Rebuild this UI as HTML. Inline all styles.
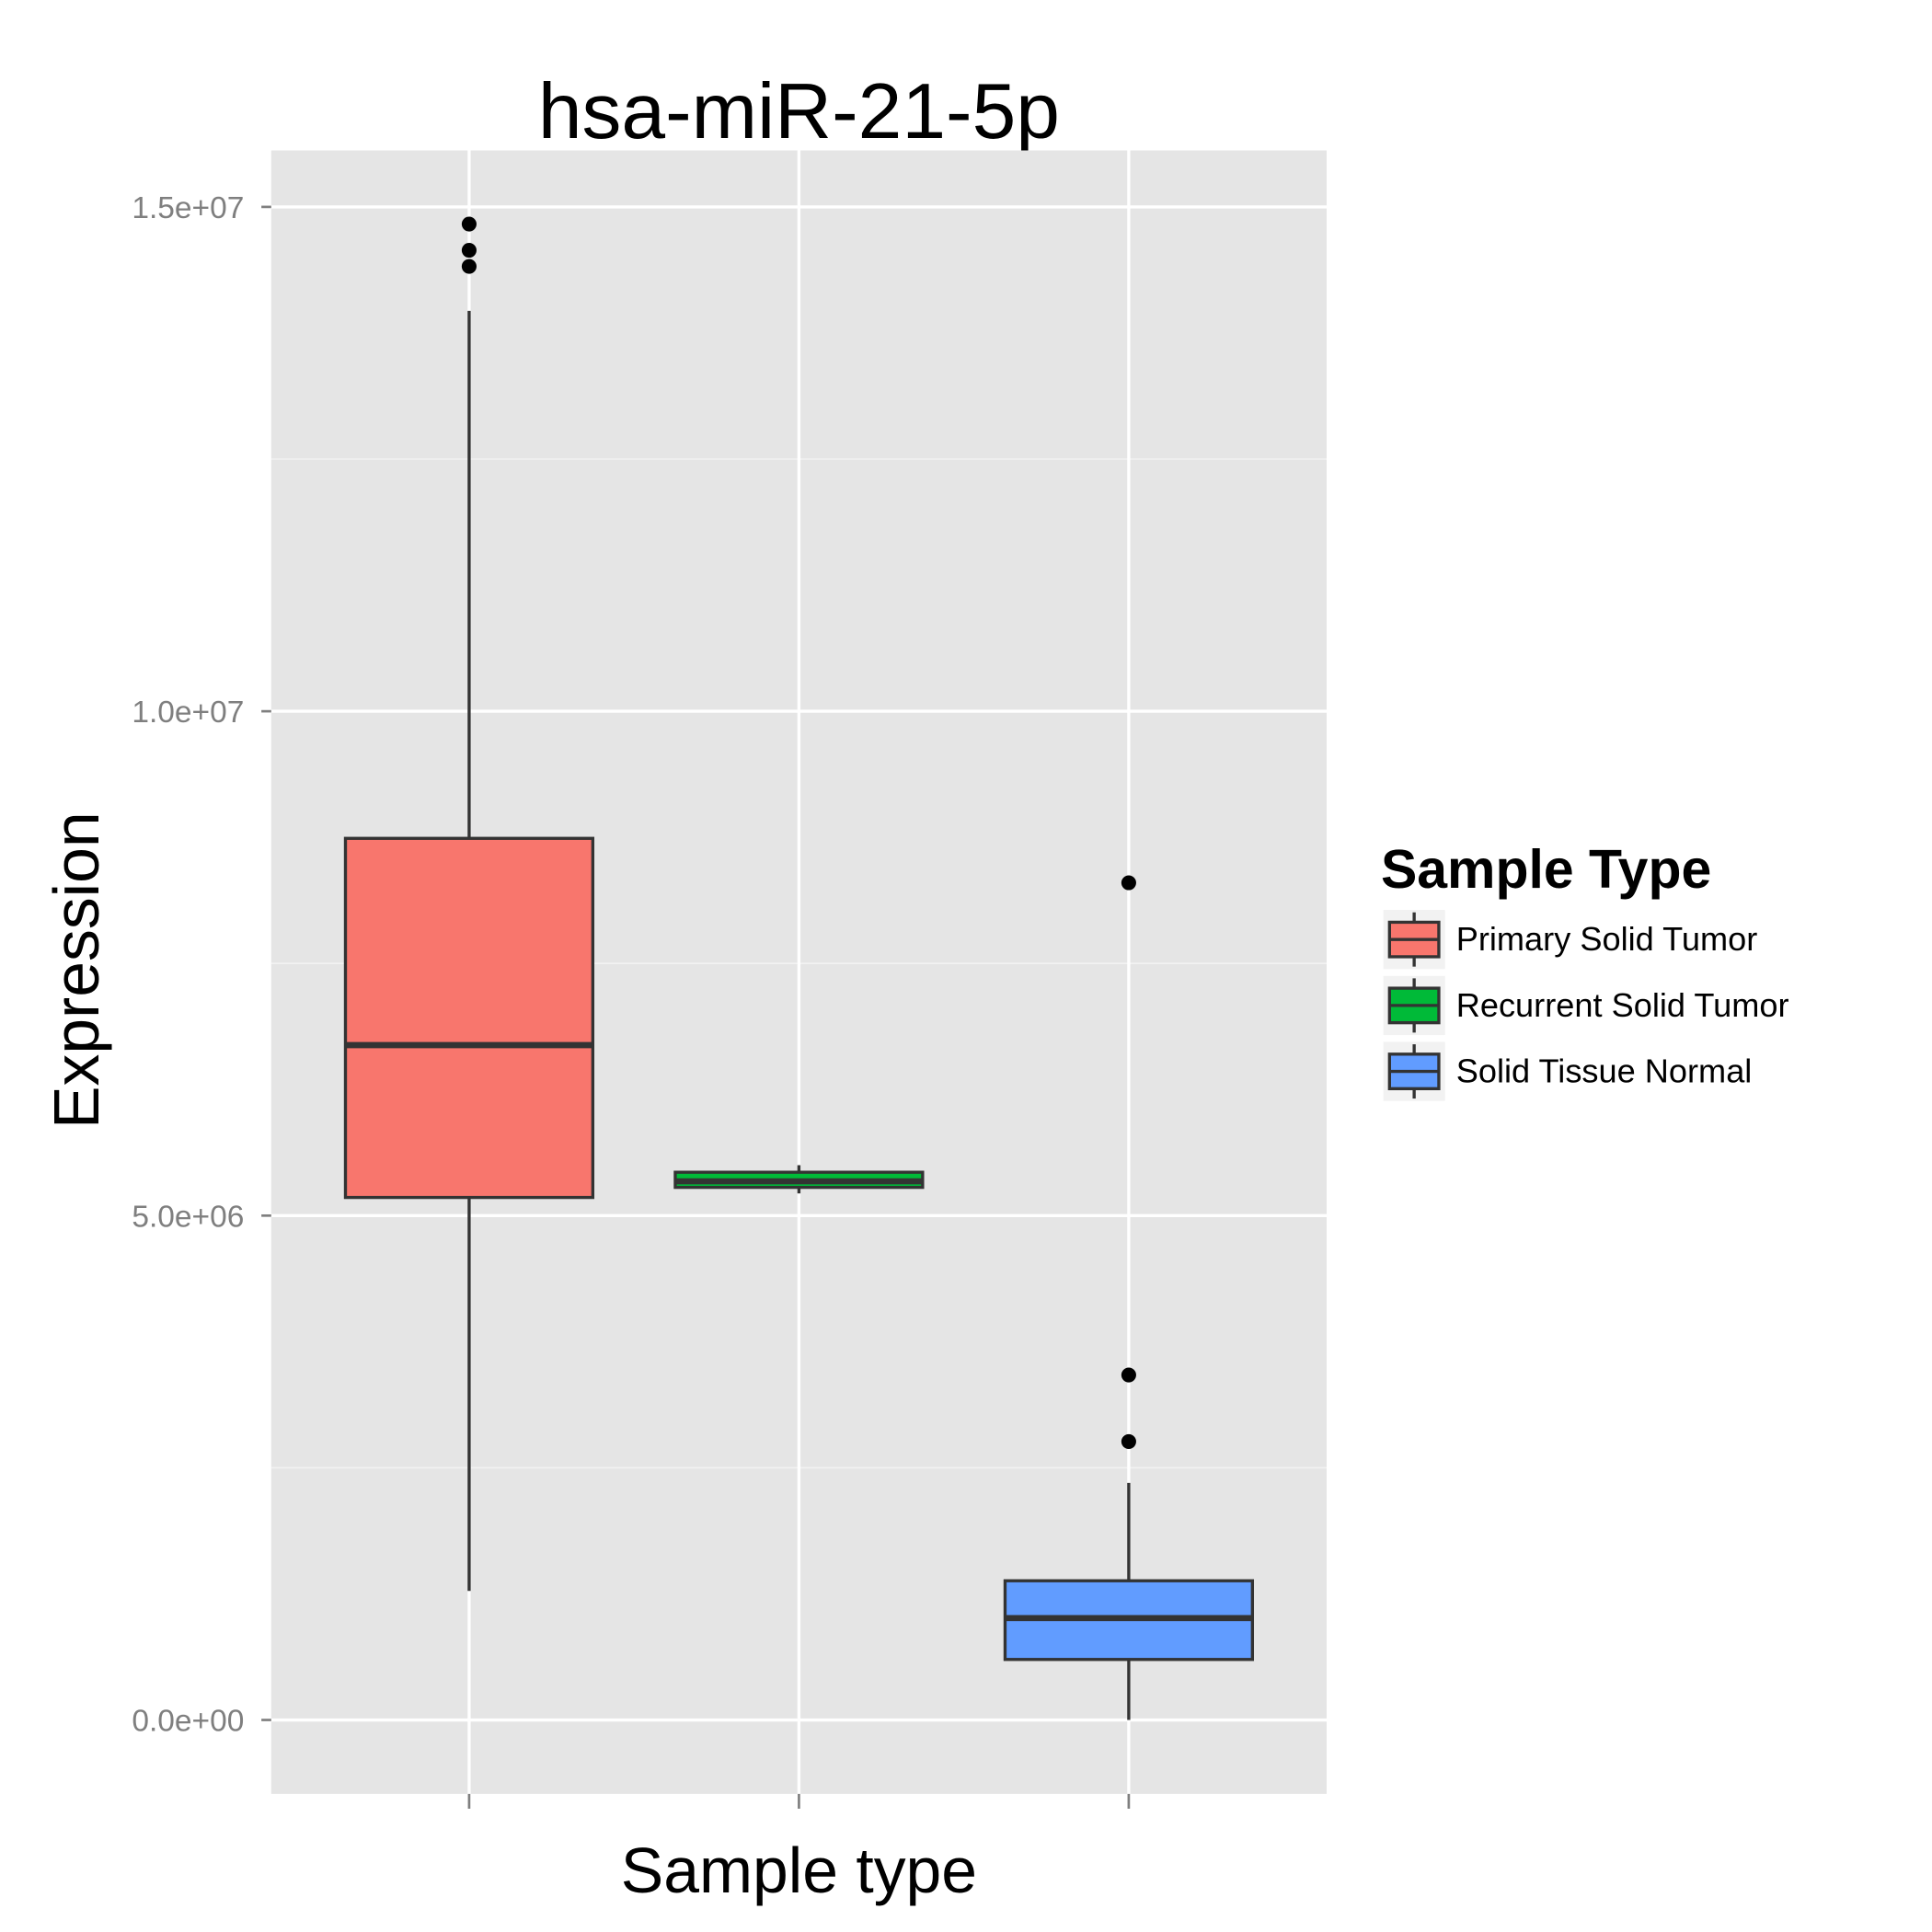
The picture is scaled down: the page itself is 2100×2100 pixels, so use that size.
<!DOCTYPE html>
<html><head><meta charset="utf-8"><style>html,body{margin:0;padding:0;background:#fff}svg{display:block}</style></head>
<body>
<svg id="chart" width="2100" height="2100" viewBox="0 0 1567 1567" xmlns="http://www.w3.org/2000/svg" font-family="'Liberation Sans', sans-serif">
<rect x="0" y="0" width="1567" height="1567" fill="#fff"/>
<text x="648" y="112" font-size="64" text-anchor="middle" fill="#000">hsa-miR-21-5p</text>
<rect x="220" y="122" width="856" height="1333" fill="#e5e5e5"/>
<g id="grid"></g>
<g id="boxes"></g>
<g id="axes"></g>
<text transform="translate(80,787) rotate(-90)" font-size="52" text-anchor="middle">Expression</text>
<text x="648" y="1535" font-size="52" text-anchor="middle">Sample type</text>
<g id="legend">
<text x="1120" y="720" font-size="44" font-weight="bold">Sample Type</text>
</g>
</svg>
<script>
const categories = ["Primary Solid Tumor","Recurrent Solid Tumor","Solid Tissue Normal"];
const colors = ["#F8766D","#00BA38","#619CFF"];
const whiskerLow = [1.28e6, 5.22e6, 0.0];
const q1 = [5.18e6, 5.28e6, 0.60e6];
const median = [6.69e6, 5.34e6, 1.01e6];
const q3 = [8.74e6, 5.43e6, 1.38e6];
const whiskerHigh = [13.97e6, 5.50e6, 2.35e6];
const outliers = [[14.83e6, 14.57e6, 14.41e6], [], [8.30e6, 3.42e6, 2.76e6]];
const yTicks = [0, 5e6, 1e7, 1.5e7];
const yTickLabels = ["0.0e+00","5.0e+06","1.0e+07","1.5e+07"];
const yMinor = [2.5e6, 7.5e6, 1.25e7];

const NS="http://www.w3.org/2000/svg";
const px0=220, px1=1076, py0=122, py1=1455;
const yMin=-0.733e6, yMax=15.56e6;
function y(v){return py1-(v-yMin)/(yMax-yMin)*(py1-py0);}
const band=(px1-px0)/(categories.length+0.2);
function x(i){return px0+band*(0.6+i);}
function mk(parent,tag,attrs){const e=document.createElementNS(NS,tag);for(const k in attrs)e.setAttribute(k,attrs[k]);parent.appendChild(e);return e;}
const grid=document.getElementById('grid'), boxes=document.getElementById('boxes'), axes=document.getElementById('axes'), legend=document.getElementById('legend');
yMinor.forEach(v=>{const l=mk(grid,'line',{x1:px0,x2:px1,y1:y(v),y2:y(v),stroke:'#f2f2f2','stroke-width':1.2});

});
yTicks.forEach((v,i)=>{const l=mk(grid,'line',{x1:px0,x2:px1,y1:y(v),y2:y(v),stroke:'#fff','stroke-width':2.5});


const t=mk(axes,'line',{x1:px0-8,x2:px0,y1:y(v),y2:y(v),stroke:'#7f7f7f','stroke-width':2});


const tx=mk(axes,'text',{x:px0-22,y:y(v)+9,'font-size':25,'text-anchor':'end',fill:'#7f7f7f'});tx.textContent=yTickLabels[i];

});
categories.forEach((c,i)=>{const cx=x(i);
const g=mk(grid,'line',{x1:cx,x2:cx,y1:py0,y2:py1,stroke:'#fff','stroke-width':2.5});


const t=mk(axes,'line',{x1:cx,x2:cx,y1:py1,y2:py1+12,stroke:'#7f7f7f','stroke-width':2});


const bw=band*0.75;
const grp=mk(boxes,'g',{});


mk(grp,'line',{x1:cx,x2:cx,y1:y(whiskerHigh[i]),y2:y(q3[i]),stroke:'#333','stroke-width':2.5});
mk(grp,'line',{x1:cx,x2:cx,y1:y(q1[i]),y2:y(whiskerLow[i]),stroke:'#333','stroke-width':2.5});
mk(grp,'rect',{x:cx-bw/2,y:y(q3[i]),width:bw,height:Math.max(1,y(q1[i])-y(q3[i])),fill:colors[i],stroke:'#333','stroke-width':2.5});
mk(grp,'line',{x1:cx-bw/2,x2:cx+bw/2,y1:y(median[i]),y2:y(median[i]),stroke:'#333','stroke-width':5});
outliers[i].forEach(v=>{const p=mk(grp,'circle',{cx:cx,cy:y(v),r:6,fill:'#000'});

});
const ly=738+i*53.5;
const key=mk(legend,'g',{});


mk(key,'rect',{x:1122,y:ly,width:50,height:48,fill:'#f2f2f2'});
mk(key,'line',{x1:1147,x2:1147,y1:ly+2,y2:ly+46,stroke:'#333','stroke-width':2.5});
mk(key,'rect',{x:1127,y:ly+10,width:40,height:28,fill:colors[i],stroke:'#333','stroke-width':2.5});
mk(key,'line',{x1:1127,x2:1167,y1:ly+24,y2:ly+24,stroke:'#333','stroke-width':2.5});
const lt=mk(key,'text',{x:1181,y:ly+33,'font-size':27});lt.textContent=c;});
</script>
</body></html>
